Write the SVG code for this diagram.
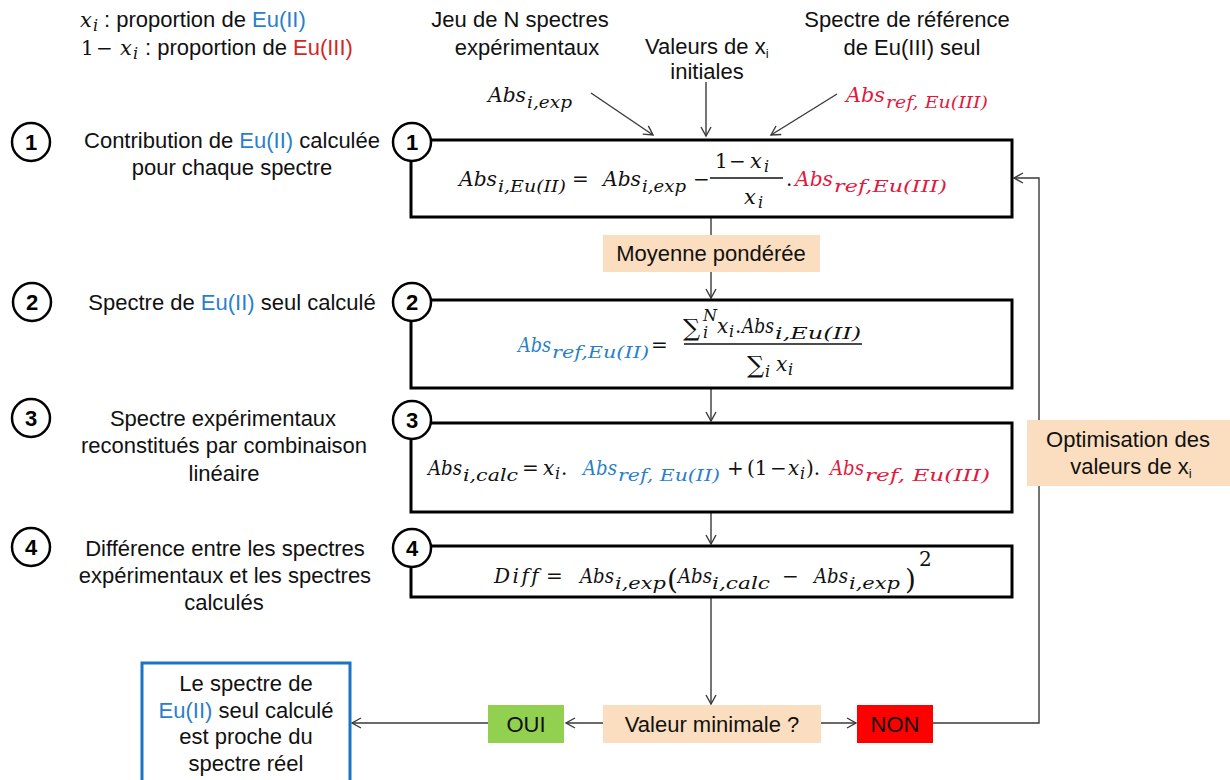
<svg xmlns="http://www.w3.org/2000/svg" width="1230" height="780" viewBox="0 0 1230 780">
<style>
.t{font-family:"Liberation Sans",Arial,sans-serif;font-size:22px;fill:#111}
.c{text-anchor:middle}
.m{font-family:"DejaVu Serif",serif;font-style:italic;font-size:21px;fill:#111;font-variant-ligatures:none}
.m2{font-family:"DejaVu Serif",serif;font-style:italic;font-size:20px;fill:#111;font-variant-ligatures:none}
.sb{font-family:"DejaVu Serif",serif;font-style:italic;font-size:16px;fill:#111}
.op{font-family:"DejaVu Serif",serif;font-size:20px;fill:#111}
.big{font-family:"DejaVu Serif",serif;font-size:28px;fill:#111}
.sum{font-family:"DejaVu Serif","DejaVu Sans",serif;font-size:24px;fill:#111}
.blue{fill:#2a7fc9}
.red{fill:#d42626}
.mred{fill:#e2183e}
.box{fill:#fff;stroke:#000;stroke-width:3}
.circ{fill:#fff;stroke:#000;stroke-width:2.5}
.num{font-family:"Liberation Sans",Arial,sans-serif;font-size:22px;font-weight:bold;text-anchor:middle;fill:#000}
.peach{fill:#fbdebf}
.conn{fill:none;stroke:#3a3a3a;stroke-width:1.4}
</style>
<defs>
<marker id="ah" markerWidth="12" markerHeight="12" refX="10" refY="6" orient="auto" markerUnits="userSpaceOnUse">
<path d="M1,1 L10,6 L1,11" fill="none" stroke="#3a3a3a" stroke-width="1.4"/>
</marker>
</defs>
<rect width="1230" height="780" fill="#fff"/>

<g id="legend">
<text class="m" x="80" y="27">x</text><text class="sb" x="93" y="31" font-size="14">i</text>
<text class="t" x="104" y="27">: proportion de <tspan class="blue">Eu(II)</tspan></text>
<text class="op" x="81" y="55">1</text><text class="op" x="96" y="55">−</text>
<text class="m" x="120" y="55">x</text><text class="sb" x="133" y="59" font-size="14">i</text>
<text class="t" x="145" y="55">: proportion de <tspan class="red">Eu(III)</tspan></text>
</g>

<g id="input-exp">
<text class="t c" x="520" y="27">Jeu de N spectres</text>
<text class="t c" x="527" y="55">expérimentaux</text>
<text class="m" x="488" y="102" textLength="38" lengthAdjust="spacingAndGlyphs">Abs</text>
<text class="sb" x="527" y="108" textLength="45" lengthAdjust="spacingAndGlyphs">i,exp</text>
</g>
<g id="input-xi">
<text class="t" x="645" y="54">Valeurs de x<tspan font-size="13" dy="4">i</tspan></text>
<text class="t c" x="707" y="79">initiales</text>
</g>
<g id="input-ref">
<text class="t c" x="907" y="27">Spectre de référence</text>
<text class="t c" x="912" y="55">de Eu(III) seul</text>
<text class="m mred" x="846" y="102" textLength="39" lengthAdjust="spacingAndGlyphs">Abs</text>
<text class="sb mred" x="886" y="108" textLength="102" lengthAdjust="spacingAndGlyphs">ref, Eu(III)</text>
</g>

<g id="step-labels">
<circle class="circ" cx="31" cy="142" r="19"/><text class="num" x="31" y="150">1</text>
<text class="t c" x="232" y="148">Contribution de <tspan class="blue">Eu(II)</tspan> calculée</text>
<text class="t c" x="232" y="175">pour chaque spectre</text>
<circle class="circ" cx="32" cy="302" r="19"/><text class="num" x="32" y="310">2</text>
<text class="t c" x="232" y="310">Spectre de <tspan class="blue">Eu(II)</tspan> seul calculé</text>
<circle class="circ" cx="31" cy="418" r="19"/><text class="num" x="31" y="426">3</text>
<text class="t c" x="223" y="426">Spectre expérimentaux</text>
<text class="t c" x="224" y="453">reconstitués par combinaison</text>
<text class="t c" x="224" y="481">linéaire</text>
<circle class="circ" cx="31" cy="547" r="19"/><text class="num" x="31" y="555">4</text>
<text class="t c" x="225" y="556">Différence entre les spectres</text>
<text class="t c" x="225" y="583">expérimentaux et les spectres</text>
<text class="t c" x="224" y="610">calculés</text>
</g>

<g id="connectors">
<line class="conn" x1="591" y1="93" x2="653" y2="135" marker-end="url(#ah)"/>
<line class="conn" x1="706" y1="82" x2="706" y2="136" marker-end="url(#ah)"/>
<line class="conn" x1="837" y1="94" x2="771" y2="135" marker-end="url(#ah)"/>
<line class="conn" x1="711" y1="217" x2="711" y2="235"/>
<line class="conn" x1="711" y1="272" x2="711" y2="298" marker-end="url(#ah)"/>
<line class="conn" x1="711" y1="388" x2="711" y2="421" marker-end="url(#ah)"/>
<line class="conn" x1="711" y1="512" x2="711" y2="544" marker-end="url(#ah)"/>
<line class="conn" x1="711" y1="597" x2="711" y2="704" marker-end="url(#ah)"/>
<line class="conn" x1="603" y1="723" x2="566" y2="723" marker-end="url(#ah)"/>
<line class="conn" x1="488" y1="723" x2="352" y2="723" marker-end="url(#ah)"/>
<line class="conn" x1="821" y1="723" x2="856" y2="723" marker-end="url(#ah)"/>
<path class="conn" d="M933,723 H1039 V178 H1014" marker-end="url(#ah)"/>
</g>

<g id="box1">
<rect class="box" x="411" y="140" width="601" height="77"/>
<text class="m" x="459" y="186" textLength="38" lengthAdjust="spacingAndGlyphs">Abs</text>
<text class="sb" x="498" y="192" textLength="68" lengthAdjust="spacingAndGlyphs">i,Eu(II)</text>
<text class="op" x="572" y="186">=</text>
<text class="m" x="603" y="186" textLength="38" lengthAdjust="spacingAndGlyphs">Abs</text>
<text class="sb" x="642" y="192" textLength="44" lengthAdjust="spacingAndGlyphs">i,exp</text>
<text class="op" x="693" y="186">−</text>
<text class="op" x="715" y="168">1</text><text class="op" x="729" y="168">−</text>
<text class="m" x="750" y="168">x</text><text class="sb" x="764" y="172">i</text>
<line x1="710" y1="178" x2="783" y2="178" stroke="#111" stroke-width="1.3"/>
<text class="m" x="744" y="204">x</text><text class="sb" x="758" y="208">i</text>
<text class="op" x="786" y="186">.</text>
<text class="m mred" x="795" y="186" textLength="38" lengthAdjust="spacingAndGlyphs">Abs</text>
<text class="sb mred" x="834" y="192" textLength="113" lengthAdjust="spacingAndGlyphs">ref,Eu(III)</text>
<circle class="circ" cx="412" cy="142" r="19"/><text class="num" x="412" y="150">1</text>
</g>

<g id="box2">
<rect class="box" x="411" y="300" width="601" height="88"/>
<text class="m2 blue" x="518" y="352" textLength="33" lengthAdjust="spacingAndGlyphs">Abs</text>
<text class="sb blue" x="552" y="358" textLength="97" lengthAdjust="spacingAndGlyphs">ref,Eu(II)</text>
<text class="op" x="651" y="352">=</text>
<line x1="684" y1="344" x2="862" y2="344" stroke="#111" stroke-width="1.3"/>
<text class="sum" x="683" y="336">∑</text>
<text class="sb" x="703" y="321" font-size="12">N</text>
<text class="sb" x="703" y="338" font-size="12">i</text>
<text class="m2" x="717" y="333">x</text><text class="sb" x="729" y="337">i</text>
<text class="op" x="735" y="333">.</text>
<text class="m2" x="742" y="333" textLength="32" lengthAdjust="spacingAndGlyphs">Abs</text>
<text class="sb" x="775" y="339" textLength="86" lengthAdjust="spacingAndGlyphs">i,Eu(II)</text>
<text class="sum" x="747" y="373">∑</text>
<text class="sb" x="765" y="377" font-size="13">i</text>
<text class="m2" x="776" y="371">x</text><text class="sb" x="788" y="375">i</text>
<circle class="circ" cx="412" cy="302" r="19"/><text class="num" x="412" y="310">2</text>
</g>

<g id="box3">
<rect class="box" x="411" y="423" width="601" height="89"/>
<text class="m2" x="428" y="475" textLength="34" lengthAdjust="spacingAndGlyphs">Abs</text>
<text class="sb" x="463" y="481" textLength="55" lengthAdjust="spacingAndGlyphs">i,calc</text>
<text class="op" x="522" y="475">=</text>
<text class="m2" x="543" y="475">x</text><text class="sb" x="555" y="479">i</text>
<text class="op" x="561" y="475">.</text>
<text class="m2 blue" x="583" y="475" textLength="34" lengthAdjust="spacingAndGlyphs">Abs</text>
<text class="sb blue" x="618" y="481" textLength="102" lengthAdjust="spacingAndGlyphs">ref, Eu(II)</text>
<text class="op" x="727" y="475">+</text>
<text class="op" x="747" y="475">(1</text>
<text class="op" x="770" y="475">−</text>
<text class="m2" x="788" y="475">x</text><text class="sb" x="800" y="479">i</text>
<text class="op" x="806" y="475">).</text>
<text class="m2 mred" x="830" y="475" textLength="34" lengthAdjust="spacingAndGlyphs">Abs</text>
<text class="sb mred" x="865" y="481" textLength="125" lengthAdjust="spacingAndGlyphs">ref, Eu(III)</text>
<circle class="circ" cx="412" cy="420" r="19"/><text class="num" x="412" y="428">3</text>
</g>

<g id="box4">
<rect class="box" x="411" y="546" width="601" height="51"/>
<text class="m2" x="494" y="583" letter-spacing="2.5">Diff</text>
<text class="op" x="546" y="583">=</text>
<text class="m2" x="580" y="583" textLength="34" lengthAdjust="spacingAndGlyphs">Abs</text>
<text class="sb" x="615" y="589" textLength="51" lengthAdjust="spacingAndGlyphs">i,exp</text>
<text class="big" x="667" y="589">(</text>
<text class="m2" x="678" y="583" textLength="34" lengthAdjust="spacingAndGlyphs">Abs</text>
<text class="sb" x="712" y="589" textLength="58" lengthAdjust="spacingAndGlyphs">i,calc</text>
<text class="op" x="782" y="583">−</text>
<text class="m2" x="814" y="583" textLength="34" lengthAdjust="spacingAndGlyphs">Abs</text>
<text class="sb" x="849" y="589" textLength="51" lengthAdjust="spacingAndGlyphs">i,exp</text>
<text class="big" x="905" y="589">)</text>
<text class="op" x="919" y="566" font-size="15">2</text>
<circle class="circ" cx="412" cy="548" r="19"/><text class="num" x="412" y="556">4</text>
</g>

<g id="moyenne">
<rect class="peach" x="603" y="235" width="217" height="37"/>
<text class="t c" x="711" y="261">Moyenne pondérée</text>
</g>

<g id="optimisation">
<rect class="peach" x="1027" y="420" width="203" height="66"/>
<text class="t c" x="1128" y="447">Optimisation des</text>
<text class="t c" x="1131" y="474">valeurs de x<tspan font-size="13" dy="4">i</tspan></text>
</g>

<g id="valeur">
<rect class="peach" x="603" y="705" width="218" height="38"/>
<text class="t c" x="712" y="732">Valeur minimale ?</text>
</g>
<g id="oui">
<rect x="488" y="705" width="76" height="38" fill="#92d050"/>
<text class="t c" x="526" y="732">OUI</text>
</g>
<g id="non">
<rect x="857" y="705" width="76" height="38" fill="#ff0000"/>
<text class="t c" x="895" y="732">NON</text>
</g>

<g id="result">
<rect x="142" y="663" width="208" height="130" fill="#fff" stroke="#1a73c4" stroke-width="3"/>
<text class="t c" x="246" y="691" font-size="21">Le spectre de</text>
<text class="t c" x="246" y="718" font-size="21"><tspan class="blue">Eu(II)</tspan> seul calculé</text>
<text class="t c" x="246" y="744" font-size="21">est proche du</text>
<text class="t c" x="246" y="771" font-size="21">spectre réel</text>
</g>
</svg>
